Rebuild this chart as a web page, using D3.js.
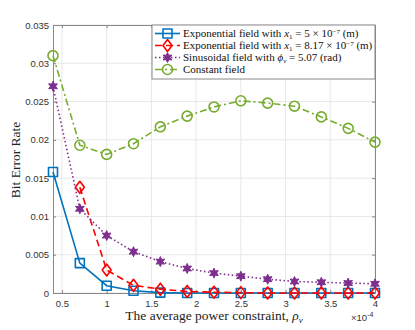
<!DOCTYPE html>
<html>
<head>
<meta charset="utf-8">
<script src="https://cdn.jsdelivr.net/npm/d3@7"></script>
<style>
  body { margin: 0; background: #fff; }
  svg { display: block; }
  .tick text { font-family: "Liberation Sans", Arial, sans-serif; font-size: 9.5px; fill: #333; }
</style>
</head>
<body>
<svg width="415" height="330"></svg>
<script>
// data (x in units of 1e-4)
const powerX = [0.4, 0.7, 1.0, 1.3, 1.6, 1.9, 2.2, 2.5, 2.8, 3.1, 3.4, 3.7, 4.0];
const expA = [0.0158, 0.0039, 0.00095, 0.0003, 0.00005, 0, 0, 0, 0, 0, 0, 0, 0];
const expB = [null, 0.0138, 0.003, 0.001, 0.0005, 0.0002, 0.0001, 0.00005, 0, 0, 0, 0, 0];
const sinus = [0.027, 0.011, 0.0075, 0.0054, 0.0041, 0.0032, 0.0026, 0.0022, 0.0018, 0.0015, 0.0014, 0.0013, 0.0012];
const constant = [0.031, 0.0193, 0.0181, 0.0195, 0.0217, 0.0231, 0.0243, 0.0251, 0.0248, 0.0244, 0.0230, 0.0215, 0.0197];
const xTicks = [0.5, 1, 1.5, 2, 2.5, 3, 3.5, 4];
const yTicks = [0, 0.005, 0.01, 0.015, 0.02, 0.025, 0.03, 0.035];

const margin = { top: 25, left: 53 },
      width = 375 - margin.left,
      height = 293 - margin.top;

const svg = d3.select("svg");
const g = svg.append("g")
  .attr("transform", `translate(${margin.left},${margin.top})`);

const x = d3.scaleLinear().domain([0.4, 4]).range([0, width]);
const y = d3.scaleLinear().domain([0, 0.035]).range([height, 0]);

// grid
g.append("g")
  .selectAll("line")
  .data(xTicks)
  .join("line")
  .attr("x1", d => x(d)).attr("x2", d => x(d))
  .attr("y1", 0).attr("y2", height)
  .attr("stroke", "#e8e8e8");
g.append("g")
  .selectAll("line")
  .data(yTicks)
  .join("line")
  .attr("x1", 0).attr("x2", width)
  .attr("y1", d => y(d)).attr("y2", d => y(d))
  .attr("stroke", "#e8e8e8");

// axes
const axisColor = "#888";
g.append("g")
  .attr("transform", `translate(0,${height})`)
  .call(d3.axisBottom(x).tickValues(xTicks).tickSize(-3).tickPadding(7).tickFormat(d3.format("")));
g.append("g")
  .call(d3.axisLeft(y).tickValues(yTicks).tickSize(-3).tickPadding(4)
    .tickFormat(d => d === 0 ? "0" : String(+d.toFixed(3))));
g.append("g")
  .attr("transform", `translate(${width},0)`)
  .call(d3.axisRight(y).tickValues(yTicks).tickSize(-3).tickFormat(""));
g.append("g")
  .call(d3.axisTop(x).tickValues(xTicks).tickSize(-3).tickFormat(""));
g.selectAll(".domain").attr("stroke", axisColor);
g.selectAll(".tick line").attr("stroke", axisColor);

// markers
function hexagram(r) {
  const pts = [];
  for (let i = 0; i < 12; i++) {
    const a = Math.PI / 6 * i - Math.PI / 2;
    const rr = i % 2 === 0 ? r : r * 0.5;
    pts.push([rr * Math.cos(a), rr * Math.sin(a)]);
  }
  return "M" + pts.map(p => p.join(",")).join("L") + "Z";
}
const series = [
  { values: expA, color: "#0072BD", dash: null, marker: "square" },
  { values: expB, color: "#FF0000", dash: "7,4", marker: "diamond" },
  { values: sinus, color: "#7E2F8E", dash: "1.5,2.5", marker: "star" },
  { values: constant, color: "#77AC30", dash: "7,3,2,3", marker: "circle" }
];
function markerPath(type) {
  if (type === "square") return "M-4.5,-4.5H4.5V4.5H-4.5Z";
  if (type === "diamond") return "M0,-6L4.5,0L0,6L-4.5,0Z";
  if (type === "star") return hexagram(5);
  return d3.symbol(d3.symbolCircle, 78)();
}
function drawMarker(sel, s) {
  const star = s.marker === "star";
  sel.append("path")
    .attr("d", markerPath(s.marker))
    .attr("fill", star ? s.color : "none")
    .attr("stroke", s.color)
    .attr("stroke-width", star ? 1 : 1.6)
    .attr("stroke-linejoin", "round");
}

const line = d3.line()
  .defined(d => d[1] !== null)
  .x(d => x(d[0]))
  .y(d => y(d[1]));

series.forEach(s => {
  const pts = powerX.map((p, i) => [p, s.values[i]]);
  g.append("path")
    .datum(pts)
    .attr("fill", "none")
    .attr("stroke", s.color)
    .attr("stroke-width", 1.6)
    .attr("stroke-dasharray", s.dash)
    .attr("d", line);
  pts.filter(d => d[1] !== null).forEach(d => {
    drawMarker(g.append("g").attr("transform", `translate(${x(d[0])},${y(d[1])})`), s);
  });
});

// axis labels
const serif = "'Liberation Serif', 'Times New Roman', serif";
svg.append("text")
  .attr("transform", "translate(20,160) rotate(-90)")
  .attr("text-anchor", "middle")
  .style("font-family", serif).style("font-size", "13.5px").attr("fill", "#222")
  .text("Bit Error Rate");
const xl = svg.append("text")
  .attr("x", 214).attr("y", 320)
  .attr("text-anchor", "middle")
  .style("font-family", serif).style("font-size", "13.5px").attr("fill", "#222");
xl.append("tspan").text("The average power constraint, ");
xl.append("tspan").style("font-style", "italic").text("ρ");
xl.append("tspan").style("font-style", "italic").style("font-size", "9px").attr("dy", 3).text("v");
const ex = svg.append("text")
  .attr("x", 351).attr("y", 321)
  .style("font-family", "'Liberation Sans', Arial, sans-serif").style("font-size", "9.5px").attr("fill", "#333");
ex.append("tspan").text("×10");
ex.append("tspan").attr("dy", -4).style("font-size", "7px").text("-4");

// legend
const leg = svg.append("g").attr("transform", "translate(152,25)");
leg.append("rect")
  .attr("width", 223).attr("height", 54)
  .attr("fill", "#fff").attr("stroke", "#888");
// each piece: [text, style, dy]
const labels = [
  [["Exponential field with ", "n", 0], ["x", "i", 0], ["1", "s", 1.5], [" = 5 × 10", "n", -1.5], ["−7", "s", -3.5], [" (m)", "n", 3.5]],
  [["Exponential field with ", "n", 0], ["x", "i", 0], ["1", "s", 1.5], [" = 8.17 × 10", "n", -1.5], ["−7", "s", -3.5], [" (m)", "n", 3.5]],
  [["Sinusoidal field with ", "n", 0], ["ϕ", "i", 0], ["v", "si", 1.5], [" = 5.07 (rad)", "n", -1.5]],
  [["Constant field", "n", 0]]
];
series.forEach((s, i) => {
  const row = leg.append("g").attr("transform", `translate(0,${8.5 + i * 12})`);
  row.append("line")
    .attr("x1", 3).attr("x2", 28)
    .attr("stroke", s.color).attr("stroke-width", 1.6)
    .attr("stroke-dasharray", s.dash);
  drawMarker(row.append("g").attr("transform", "translate(15.5,0)"), s);
  const t = row.append("text")
    .attr("x", 31).attr("y", 3.5)
    .style("font-family", serif).style("font-size", "11px").attr("fill", "#111");
  labels[i].forEach(([txt, kind, dy]) => {
    const sp = t.append("tspan").attr("dy", dy).text(txt);
    if (kind === "i" || kind === "si") sp.style("font-style", "italic");
    if (kind === "s" || kind === "si") sp.style("font-size", "7px");
  });
});
</script>
</body>
</html>
